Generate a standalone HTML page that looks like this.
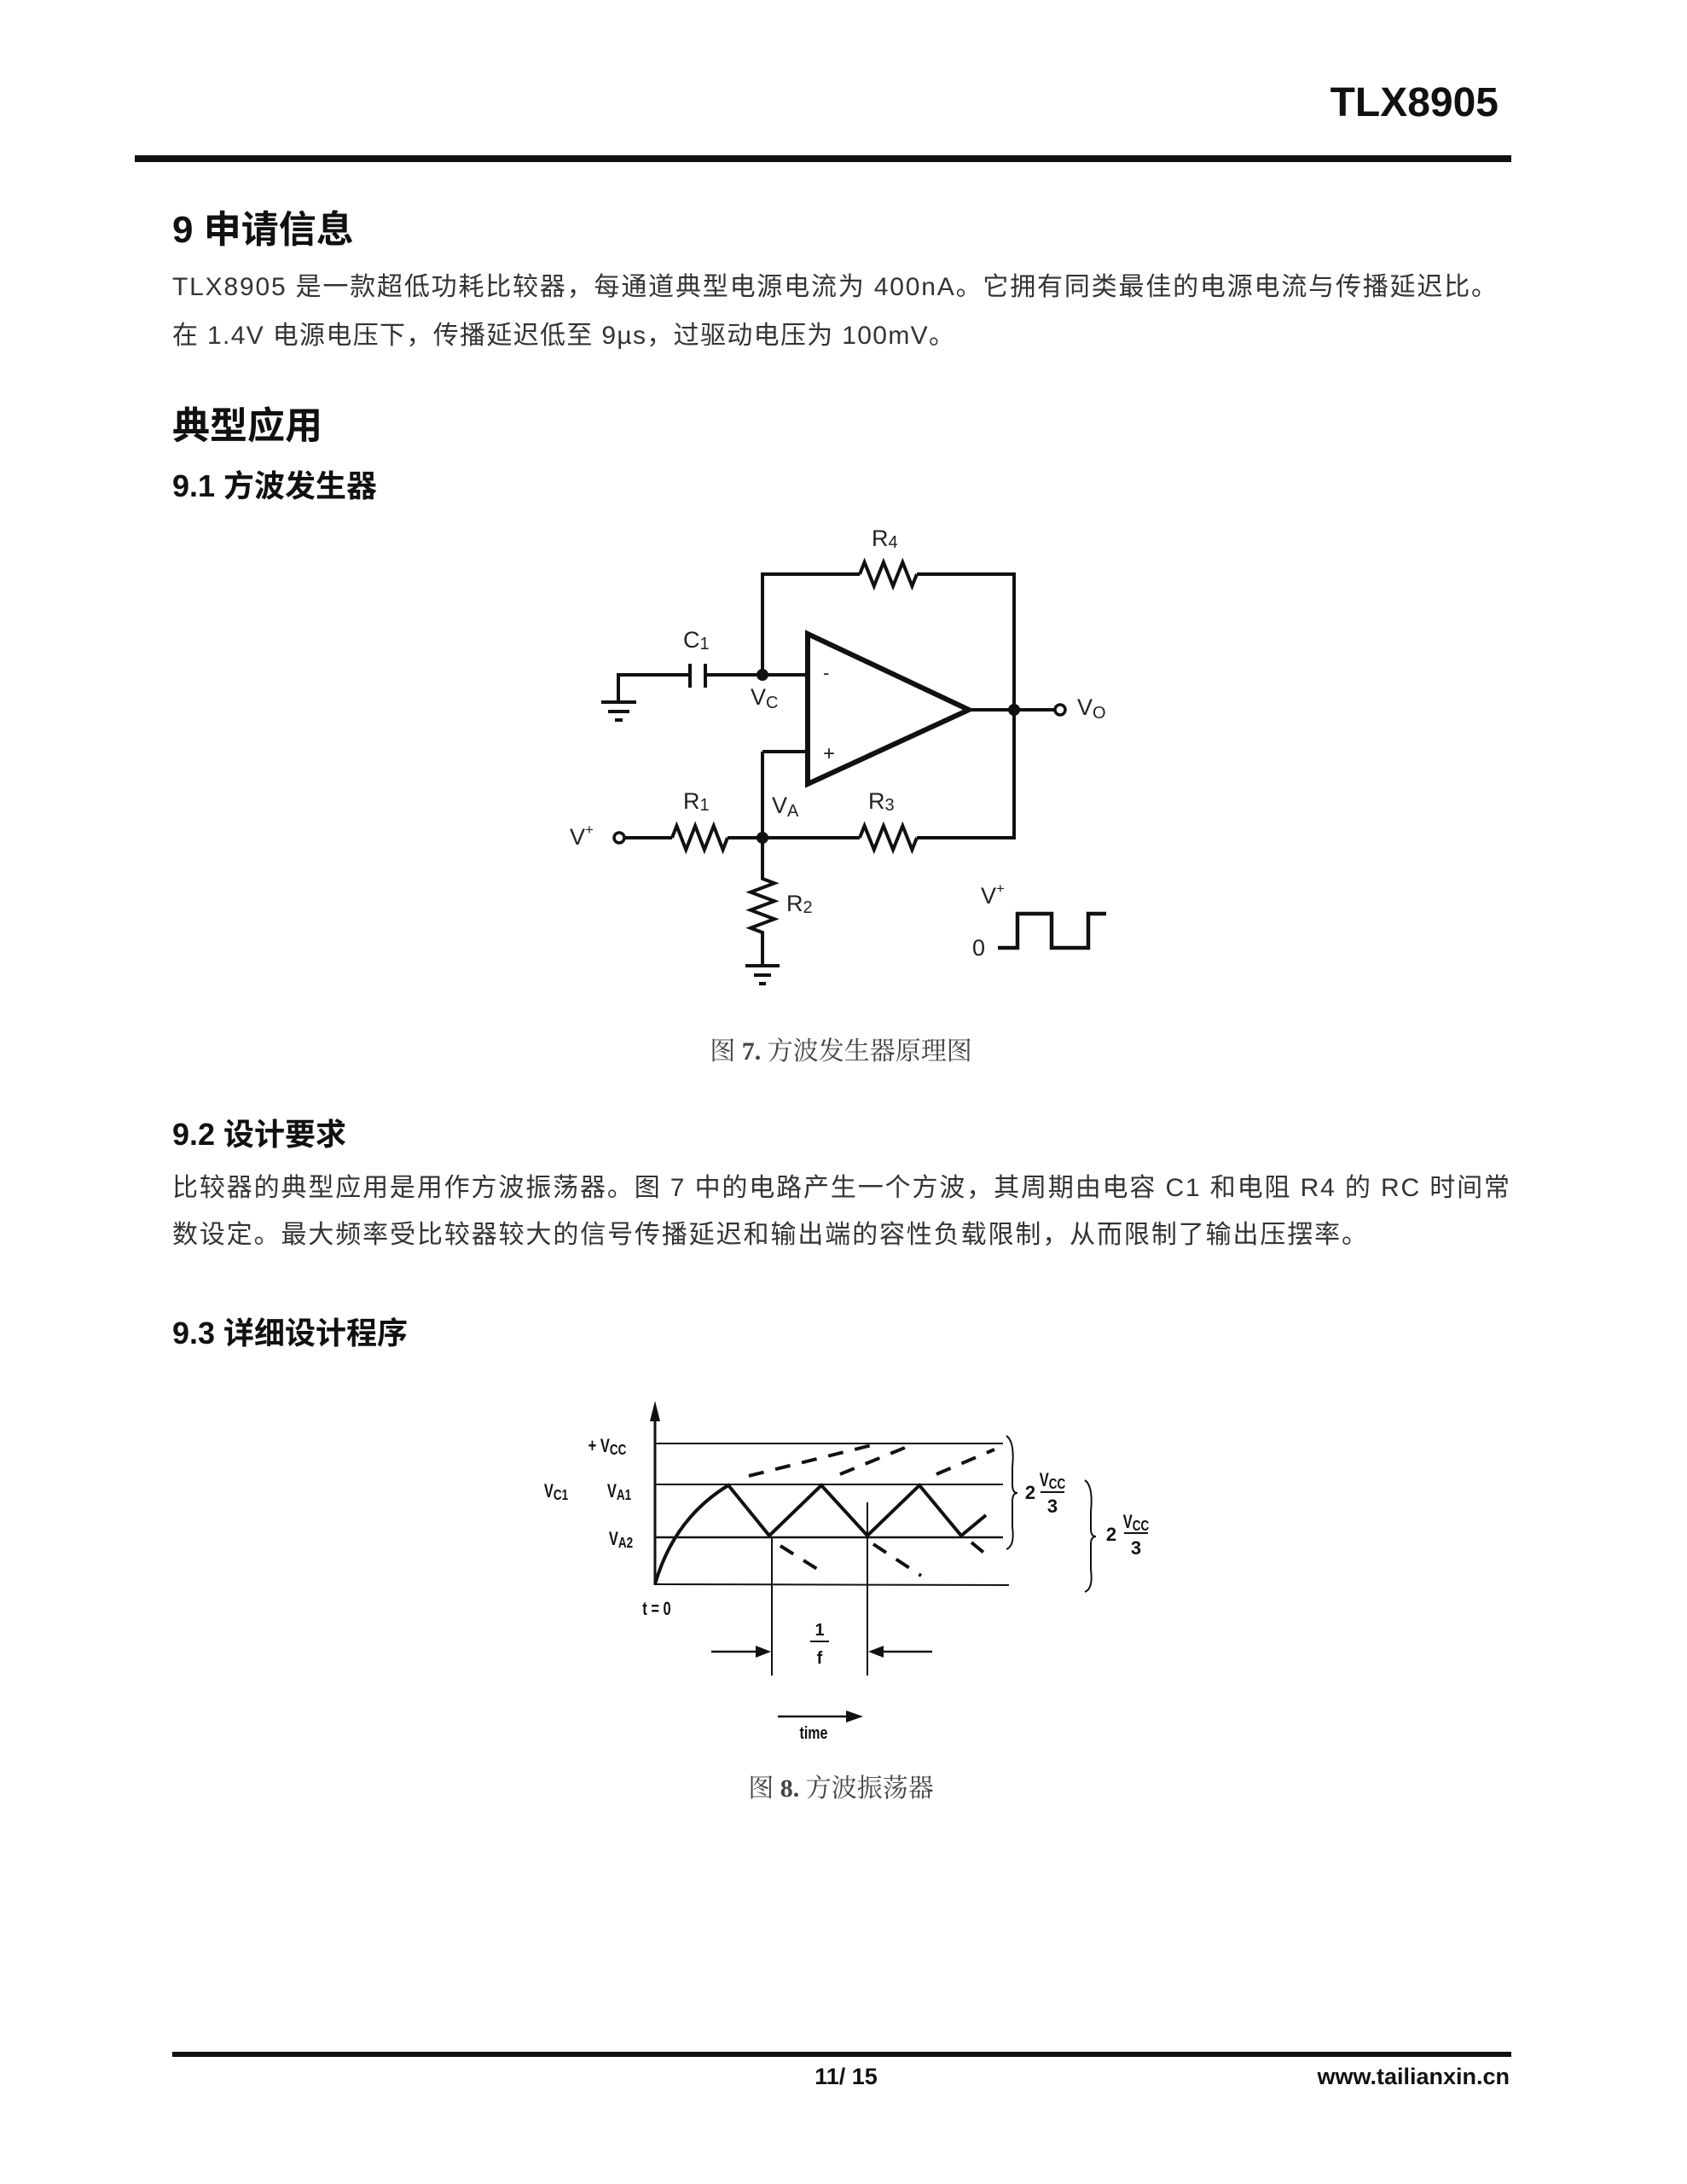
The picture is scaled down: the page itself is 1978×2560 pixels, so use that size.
<!DOCTYPE html>
<html><head><meta charset="utf-8"><style>
html,body{margin:0;padding:0;background:#fff;}
svg{display:block;}
.s{font-family:"Liberation Sans","Noto Sans CJK SC",sans-serif;}
.b{font-weight:bold;}
.sf{font-family:"Liberation Serif","Noto Serif CJK SC",serif;}
.n{font-family:"Liberation Sans",sans-serif;}
</style></head><body>
<svg width="1978" height="2560" viewBox="0 0 1978 2560" xmlns="http://www.w3.org/2000/svg">
<rect width="1978" height="2560" fill="#fff"/>
<!-- header -->
<text x="1757" y="136" text-anchor="end" class="s b" font-size="48" fill="#111">TLX8905</text>
<rect x="158" y="182" width="1614" height="8" fill="#111"/>

<text x="202" y="284" class="s b" font-size="44" fill="#111">9 申请信息</text>
<text x="202" y="346" class="s" font-size="30" fill="#333" textLength="1553" lengthAdjust="spacing">TLX8905 是一款超低功耗比较器，每通道典型电源电流为 400nA。它拥有同类最佳的电源电流与传播延迟比。</text>
<text x="202" y="403" class="s" font-size="30" fill="#333" textLength="917" lengthAdjust="spacing">在 1.4V 电源电压下，传播延迟低至 9µs，过驱动电压为 100mV。</text>

<text x="202" y="514" class="s b" font-size="44" fill="#111">典型应用</text>
<text x="202" y="582" class="s b" font-size="36" fill="#111">9.1 方波发生器</text>

<!-- circuit -->
<g stroke="#111" stroke-width="4" fill="none" stroke-linejoin="miter">
<polyline points="894,791 894,673 1008,673"/>
<polyline points="1008,673 1013.6,659 1024.8,687 1035.9,659 1047.1,687 1058.3,659 1069.4,687 1075,673"/>
<polyline points="1075,673 1189,673 1189,982 1075,982"/>
<polyline points="1008,982 1013.6,968 1024.8,996 1035.9,968 1047.1,996 1058.3,968 1069.4,996 1075,982"/>
<line x1="894" y1="982" x2="1008" y2="982"/>
<polyline points="788,982 793.4,968 804.3,996 815.1,968 825.9,996 836.8,968 847.6,996 853,982"/>
<line x1="853" y1="982" x2="894" y2="982"/>
<line x1="733" y1="982" x2="788" y2="982"/>
<polyline points="894,982 894,1030 908,1035.3 880,1045.8 908,1056.3 880,1066.8 908,1077.3 880,1087.8 894,1093 894,1132"/>
<line x1="874" y1="1132" x2="914" y2="1132"/>
<line x1="884" y1="1143" x2="904" y2="1143"/>
<line x1="890" y1="1153" x2="898" y2="1153"/>
<polyline points="894,881 947,881"/>
<line x1="894" y1="881" x2="894" y2="982"/>
<line x1="827" y1="791" x2="947" y2="791"/>
<polyline points="809,791 725,791 725,823"/>
<line x1="809" y1="778" x2="809" y2="806"/>
<line x1="827" y1="778" x2="827" y2="806"/>
<line x1="705" y1="823" x2="746" y2="823"/>
<line x1="713" y1="834" x2="738" y2="834"/>
<line x1="721" y1="844" x2="730" y2="844"/>
<line x1="1136" y1="832" x2="1237" y2="832"/>
<polygon points="947,743 947,919 1136,832" stroke-width="6"/>
<circle cx="1243" cy="832" r="6" stroke-width="3.5"/>
<circle cx="726" cy="982" r="6" stroke-width="3.5"/>
<polyline points="1170,1111 1193,1111 1193,1071 1233,1071 1233,1111 1276,1111 1276,1071 1297,1071" stroke-width="4.5"/>
</g>
<g fill="#111">
<circle cx="894" cy="791" r="7"/>
<circle cx="894" cy="982" r="7"/>
<circle cx="1189" cy="832" r="7"/>
</g>
<g class="s" font-size="27" fill="#222">
<text x="1022" y="640">R<tspan font-size="20" dy="2">4</tspan></text>
<text x="801" y="759">C<tspan font-size="20" dy="2">1</tspan></text>
<text x="880" y="826">V<tspan font-size="20" dy="4">C</tspan></text>
<text x="965" y="796" font-size="22">-</text>
<text x="965" y="891" font-size="24">+</text>
<text x="1263" y="838">V<tspan font-size="20" dy="4">O</tspan></text>
<text x="668" y="990">V<tspan font-size="17" dy="-12">+</tspan></text>
<text x="801" y="948">R<tspan font-size="20" dy="2">1</tspan></text>
<text x="905" y="953">V<tspan font-size="20" dy="4">A</tspan></text>
<text x="1018" y="948">R<tspan font-size="20" dy="2">3</tspan></text>
<text x="922" y="1068">R<tspan font-size="20" dy="2">2</tspan></text>
<text x="1150" y="1059">V<tspan font-size="17" dy="-12">+</tspan></text>
<text x="1140" y="1120">0</text>
</g>
<text x="986" y="1242" text-anchor="middle" class="sf" font-size="30" fill="#444">图 <tspan font-weight="bold">7.</tspan> 方波发生器原理图</text>

<text x="202" y="1342" class="s b" font-size="36" fill="#111">9.2 设计要求</text>
<text x="202" y="1402" class="s" font-size="30" fill="#333" textLength="1568" lengthAdjust="spacing">比较器的典型应用是用作方波振荡器。图 7 中的电路产生一个方波，其周期由电容 C1 和电阻 R4 的 RC 时间常</text>
<text x="202" y="1457" class="s" font-size="30" fill="#333" textLength="1401" lengthAdjust="spacing">数设定。最大频率受比较器较大的信号传播延迟和输出端的容性负载限制，从而限制了输出压摆率。</text>
<text x="202" y="1575" class="s b" font-size="36" fill="#111">9.3 详细设计程序</text>

<!-- graph -->
<g stroke="#111" fill="none">
<line x1="768" y1="1652" x2="768" y2="1858" stroke-width="3"/>
<polygon points="762,1666 768,1642 774,1666" fill="#111" stroke="none"/>
<line x1="768" y1="1692" x2="1176" y2="1692" stroke-width="2"/>
<line x1="768" y1="1740" x2="1176" y2="1740" stroke-width="2"/>
<line x1="768" y1="1802" x2="1176" y2="1802" stroke-width="2.5"/>
<line x1="768" y1="1857" x2="1183" y2="1858" stroke-width="2"/>
<path d="M768,1857 Q790,1780 854,1741 L902,1800 L963,1741 L1017,1800 L1078,1741 L1127,1800 L1156,1776" stroke-width="4"/>
<g stroke-width="4" stroke-dasharray="18 14">
<line x1="878" y1="1730" x2="1022" y2="1694"/>
<line x1="985" y1="1728" x2="1068" y2="1694"/>
<line x1="1098" y1="1728" x2="1166" y2="1699"/>
<line x1="915" y1="1812" x2="966" y2="1844"/>
<line x1="1024" y1="1810" x2="1080" y2="1847"/>
<line x1="1139" y1="1808" x2="1156" y2="1822"/>
</g>
<line x1="905" y1="1802" x2="905" y2="1964" stroke-width="2"/>
<line x1="1017" y1="1761" x2="1017" y2="1964" stroke-width="2"/>
<line x1="834" y1="1936" x2="890" y2="1936" stroke-width="2.5"/>
<line x1="1093" y1="1936" x2="1032" y2="1936" stroke-width="2.5"/>
<line x1="912" y1="2012" x2="996" y2="2012" stroke-width="2.5"/>
<line x1="950" y1="1924" x2="972" y2="1924" stroke-width="2"/>
<path d="M1180,1683 Q1190,1690 1187,1720 L1187,1740 Q1187,1750 1193,1750 Q1187,1750 1187,1760 L1187,1790 Q1190,1812 1180,1816" stroke-width="2"/>
<path d="M1272,1735 Q1282,1742 1279,1772 L1279,1792 Q1279,1801 1285,1801 Q1279,1801 1279,1810 L1279,1840 Q1282,1862 1272,1866" stroke-width="2"/>
<line x1="1220" y1="1749" x2="1248" y2="1749" stroke-width="2"/>
<line x1="1318" y1="1797" x2="1346" y2="1797" stroke-width="2"/>
</g>
<g fill="#111">
<polygon points="886,1929 904,1936 886,1943"/>
<polygon points="1036,1929 1018,1936 1036,1943"/>
<polygon points="992,2005 1012,2012 992,2019"/>
</g>
<g class="n" font-size="22" fill="#111" font-weight="bold" text-anchor="middle">
<text x="712" y="1702" transform="translate(712 0) scale(0.75 1) translate(-712 0)">+ V<tspan font-size="18" dy="3">CC</tspan></text>
<text x="652" y="1755" transform="translate(652 0) scale(0.75 1) translate(-652 0)">V<tspan font-size="18" dy="3">C1</tspan></text>
<text x="726" y="1755" transform="translate(726 0) scale(0.75 1) translate(-726 0)">V<tspan font-size="18" dy="3">A1</tspan></text>
<text x="728" y="1811" transform="translate(728 0) scale(0.75 1) translate(-728 0)">V<tspan font-size="18" dy="3">A2</tspan></text>
<text x="770" y="1893" transform="translate(770 0) scale(0.75 1) translate(-770 0)">t = 0</text>
<text x="961" y="1917" font-size="20">1</text>
<text x="961" y="1950" font-size="20">f</text>
<text x="954" y="2038" font-size="20" transform="translate(954 0) scale(0.8 1) translate(-954 0)">time</text>
<text x="1208" y="1757">2</text>
<text x="1234" y="1742" transform="translate(1234 0) scale(0.75 1) translate(-1234 0)">V<tspan font-size="18" dy="3">CC</tspan></text>
<text x="1234" y="1773">3</text>
<text x="1303" y="1806">2</text>
<text x="1332" y="1791" transform="translate(1332 0) scale(0.75 1) translate(-1332 0)">V<tspan font-size="18" dy="3">CC</tspan></text>
<text x="1332" y="1822">3</text>
</g>
<text x="986" y="2106" text-anchor="middle" class="sf" font-size="30" fill="#444">图 <tspan font-weight="bold">8.</tspan> 方波振荡器</text>

<!-- footer -->
<rect x="202" y="2405" width="1570" height="6" fill="#111"/>
<text x="992" y="2443" text-anchor="middle" class="s b" font-size="27" fill="#111">11/ 15</text>
<text x="1770" y="2443" text-anchor="end" class="s b" font-size="27" fill="#111">www.tailianxin.cn</text>
</svg>
</body></html>
